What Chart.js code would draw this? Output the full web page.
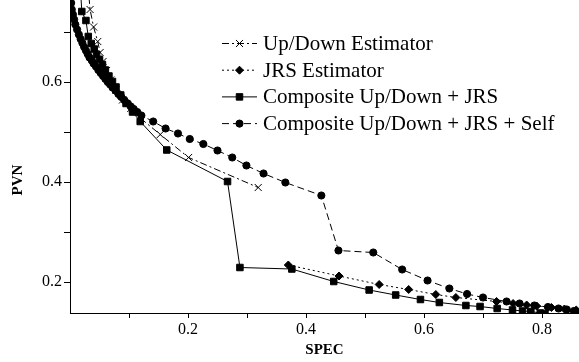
<!DOCTYPE html>
<html>
<head>
<meta charset="utf-8">
<script src="https://cdn.jsdelivr.net/npm/chart.js@4.4.1/dist/chart.umd.min.js"></script>
<style>
  html, body { margin: 0; padding: 0; background: #fff; }
  #wrap { width: 579px; height: 362px; }
</style>
</head>
<body>
<div id="wrap"><canvas id="pvnChart" width="579" height="362"></canvas></div>
<script>
// series (SPEC on x, PVN on y)
const udX = [0.030, 0.034, 0.040, 0.047, 0.051, 0.056, 0.062, 0.069, 0.078, 0.089, 0.103, 0.120, 0.153, 0.201, 0.319];
const udY = [0.800, 0.745, 0.710, 0.681, 0.659, 0.641, 0.623, 0.604, 0.584, 0.564, 0.547, 0.527, 0.495, 0.449, 0.389];

const jrsX = [0.370, 0.456, 0.524, 0.574, 0.620, 0.654, 0.723, 0.751, 0.774, 0.791, 0.816, 0.838, 0.858];
const jrsY = [0.234, 0.212, 0.195, 0.185, 0.175, 0.169, 0.161, 0.157, 0.154, 0.152, 0.149, 0.146, 0.144];

const compX = [0.017, 0.020, 0.027, 0.031, 0.036, 0.041, 0.045, 0.050, 0.055, 0.060, 0.066, 0.072, 0.078, 0.086,
               0.095, 0.106, 0.119, 0.164, 0.267, 0.288,
               0.376, 0.447, 0.507, 0.552, 0.594, 0.626, 0.671, 0.695, 0.724, 0.750, 0.767, 0.781, 0.797, 0.805];
const compY = [0.800, 0.741, 0.723, 0.691, 0.677, 0.666, 0.655, 0.645, 0.635, 0.624, 0.612, 0.601, 0.590, 0.574,
               0.557, 0.540, 0.521, 0.464, 0.401, 0.229,
               0.226, 0.201, 0.184, 0.174, 0.165, 0.159, 0.153, 0.151, 0.147, 0.144, 0.142, 0.141, 0.138, 0.137];

const selfX = [0.000, 0.002, 0.003, 0.005, 0.007, 0.009, 0.012, 0.015, 0.018, 0.021, 0.024, 0.027, 0.030, 0.033,
               0.037, 0.040, 0.044, 0.048, 0.052, 0.056, 0.060, 0.064, 0.068, 0.072, 0.077, 0.082, 0.087, 0.092,
               0.098, 0.103, 0.108, 0.114, 0.121, 0.141, 0.162, 0.183, 0.203, 0.226, 0.250, 0.275, 0.299, 0.328,
               0.365, 0.426, 0.455, 0.514, 0.563, 0.606, 0.643, 0.673, 0.700, 0.740, 0.762, 0.787, 0.810, 0.828,
               0.842, 0.854, 0.866];
const selfY = [0.780, 0.758, 0.745, 0.735, 0.725, 0.715, 0.705, 0.695, 0.686, 0.678, 0.670, 0.663, 0.656, 0.649,
               0.643, 0.637, 0.631, 0.624, 0.618, 0.612, 0.606, 0.600, 0.595, 0.589, 0.583, 0.576, 0.570, 0.564,
               0.557, 0.551, 0.546, 0.540, 0.533, 0.521, 0.507, 0.497, 0.486, 0.476, 0.463, 0.449, 0.433, 0.417,
               0.399, 0.373, 0.263, 0.259, 0.225, 0.203, 0.187, 0.176, 0.169, 0.161, 0.157, 0.153, 0.150, 0.147,
               0.145, 0.142, 0.140];

const seriesNames = ['Up/Down Estimator', 'JRS Estimator', 'Composite Up/Down + JRS', 'Composite Up/Down + JRS + Self'];

const xTickValues = [0.1, 0.2, 0.3, 0.4, 0.5, 0.6, 0.7, 0.8];
const xTickLabels = ['', '0.2', '', '0.4', '', '0.6', '', '0.8'];
const yTickValues = [0.2, 0.3, 0.4, 0.5, 0.6, 0.7];
const yTickLabels = ['0.2', '', '0.4', '', '0.6', ''];

function toPoints(xs, ys) {
    return xs.map((x, i) => ({ x: x, y: ys[i] }));
}

Chart.defaults.font.family = "'Liberation Serif', 'Times New Roman', serif";
Chart.defaults.color = '#000';

// legend sits inside the plot, so draw it by hand (line sample + marker + text)
const insideLegend = {
    id: 'insideLegend',
    afterDraw(chart) {
        const ctx = chart.ctx;
        const x0 = 222, x1 = 257, top = 43.5, gap = 26.7;
        ctx.save();
        chart.data.datasets.forEach((ds, i) => {
            const y = top + i * gap;
            ctx.strokeStyle = '#000';
            ctx.fillStyle = '#000';
            ctx.lineWidth = 1;
            ctx.setLineDash(ds.borderDash || []);
            ctx.beginPath();
            ctx.moveTo(x0, y);
            ctx.lineTo(x1, y);
            ctx.stroke();
            ctx.setLineDash([]);
            Chart.helpers.drawPoint(ctx, {
                pointStyle: ds.pointStyle, radius: ds.pointRadius, borderWidth: 1, rotation: 0
            }, (x0 + x1) / 2, y);
            ctx.font = "21px 'Liberation Serif', serif";
            ctx.textBaseline = 'middle';
            ctx.textAlign = 'left';
            ctx.fillText(ds.label, x1 + 6, y + 1);
        });
        // y axis title, placed where the original has it
        ctx.translate(18, 180);
        ctx.rotate(-Math.PI / 2);
        ctx.font = "bold 15px 'Liberation Serif', serif";
        ctx.textAlign = 'center';
        ctx.textBaseline = 'middle';
        ctx.fillText('PVN', 0, 0);
        ctx.restore();
    }
};

const lineBase = {
    borderColor: '#000',
    backgroundColor: '#000',
    pointBackgroundColor: '#000',
    pointBorderColor: '#000',
    pointBorderWidth: 1,
    borderWidth: 1,
    tension: 0,
    showLine: true
};

new Chart(document.getElementById('pvnChart'), {
    type: 'scatter',
    data: {
        datasets: [
            Object.assign({}, lineBase, {
                label: seriesNames[0], data: toPoints(udX, udY),
                borderDash: [7, 3, 2, 3], pointStyle: 'crossRot', pointRadius: 5
            }),
            Object.assign({}, lineBase, {
                label: seriesNames[1], data: toPoints(jrsX, jrsY),
                borderDash: [2, 3], pointStyle: 'rectRot', pointRadius: 4
            }),
            Object.assign({}, lineBase, {
                label: seriesNames[2], data: toPoints(compX, compY),
                borderDash: [], pointStyle: 'rect', pointRadius: 4.6
            }),
            Object.assign({}, lineBase, {
                label: seriesNames[3], data: toPoints(selfX, selfY),
                borderDash: [7, 4], pointStyle: 'circle', pointRadius: 3.6
            })
        ]
    },
    options: {
        responsive: false,
        animation: false,
        layout: { padding: 0, autoPadding: false },
        plugins: {
            legend: { display: false },
            tooltip: { enabled: false }
        },
        scales: {
            x: {
                type: 'linear', min: 0, max: 0.8627,
                afterBuildTicks: s => { s.ticks = xTickValues.map(v => ({ value: v })); },
                afterFit: s => { s.height = 49; s.paddingLeft = 0; s.paddingRight = 0; },
                ticks: {
                    autoSkip: false, maxRotation: 0, padding: 2,
                    font: { size: 16 },
                    callback: (v, i) => xTickLabels[i]
                },
                grid: { drawOnChartArea: false, tickLength: 5, color: '#000' },
                border: { color: '#000', width: 1 },
                title: {
                    display: true, text: 'SPEC',
                    font: { size: 15, weight: 'bold' },
                    padding: { top: 0, bottom: 3 }
                }
            },
            y: {
                type: 'linear', min: 0.138, max: 0.764,
                afterBuildTicks: s => { s.ticks = yTickValues.map(v => ({ value: v })); },
                afterFit: s => { s.width = 70; s.paddingTop = 0; s.paddingBottom = 0; },
                ticks: {
                    autoSkip: false, padding: 2,
                    font: { size: 16 },
                    callback: (v, i) => yTickLabels[i]
                },
                grid: { drawOnChartArea: false, tickLength: 6, color: '#000' },
                border: { color: '#000', width: 1 }
            }
        }
    },
    plugins: [insideLegend]
});
</script>
</body>
</html>
